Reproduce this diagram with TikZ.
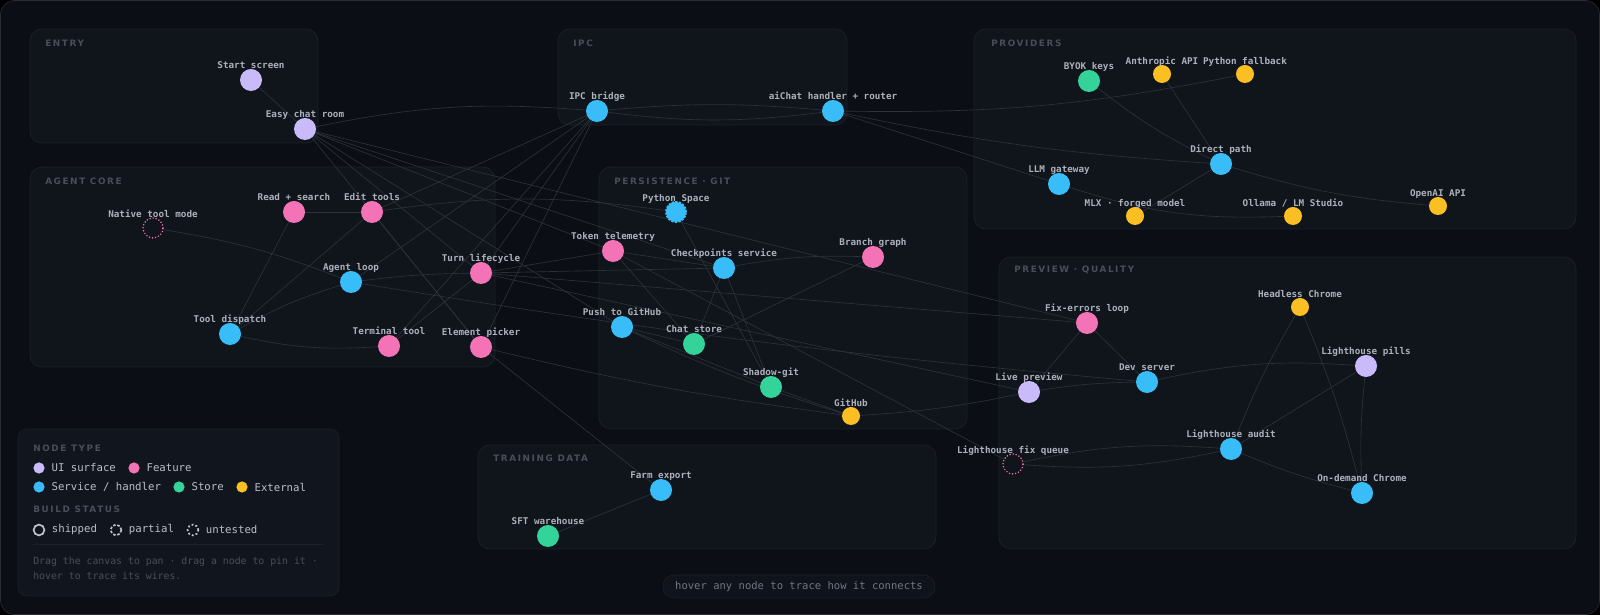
\documentclass[tikz,border=0pt]{standalone}
\usepackage{fontspec}
\setmonofont{DejaVu Sans Mono}
\newfontfamily\grpfont[LetterSpace=18]{DejaVu Sans Bold}
\usetikzlibrary{positioning}

\definecolor{canvas}{RGB}{11,14,20}
\definecolor{frame}{RGB}{40,44,52}
\definecolor{boxfill}{RGB}{16,20,27}
\definecolor{boxline}{RGB}{28,33,42}
\definecolor{grptext}{RGB}{72,78,90}
\definecolor{lbltext}{RGB}{172,177,188}
\definecolor{lgtextcol}{RGB}{185,190,200}
\definecolor{notecol}{RGB}{72,78,90}
\definecolor{hintcol}{RGB}{112,118,130}
\definecolor{wirecol}{RGB}{45,50,59}
\definecolor{uicol}{RGB}{201,187,250}
\definecolor{featcol}{RGB}{244,114,182}
\definecolor{svccol}{RGB}{56,189,248}
\definecolor{storecol}{RGB}{52,211,153}
\definecolor{extcol}{RGB}{251,191,36}
\definecolor{ringcol}{RGB}{190,195,205}

\pgfdeclarelayer{bg}
\pgfdeclarelayer{wires}
\pgfsetlayers{bg,wires,main}

\tikzset{
  grp/.style={draw=boxline, fill=boxfill, rounded corners=0.3cm, line width=0.5pt},
  grplbl/.style={font=\grpfont\fontsize{6.3}{7}\selectfont, text=grptext, anchor=west, inner sep=0},
  dot/.style={circle, inner sep=0, outer sep=0, minimum size=0.55cm, label distance=0.09cm},
  lbl/.style={font=\ttfamily\bfseries\fontsize{6.6}{7}\selectfont, text=lbltext, inner sep=0, text depth=0pt},
  ui/.style={dot, fill=uicol},
  feat/.style={dot, fill=featcol},
  svc/.style={dot, fill=svccol},
  store/.style={dot, fill=storecol},
  ext/.style={dot, fill=extcol, minimum size=0.45cm, label distance=0.14cm},
  partialsvc/.style={dot, fill=svccol, draw=svccol, line width=1.4pt, dash pattern=on 1.6pt off 0.9pt, minimum size=0.5cm, label distance=0.11cm},
  untested/.style={dot, draw=featcol, line width=1.2pt, line cap=round, dash pattern=on 0pt off 2.2pt, minimum size=0.5cm, label distance=0.1cm},
  wire/.style={draw=wirecol, line width=0.45pt},
  lgdot/.style={circle, inner sep=0, minimum size=0.28cm},
  lgring/.style={circle, inner sep=0, minimum size=0.27cm, draw=ringcol, line width=1.2pt},
  lgtext/.style={font=\ttfamily\fontsize{7.6}{9}\selectfont, text=lgtextcol, inner sep=0, anchor=west},
  notetext/.style={font=\ttfamily\fontsize{7}{8}\selectfont, text=notecol, inner sep=0, anchor=west}
}

\begin{document}
\begin{tikzpicture}[x=0.025cm, y=-0.025cm]
  \useasboundingbox (0,0) rectangle (1600,615);
  % ---- canvas and group boxes
  \begin{pgfonlayer}{bg}
    \fill[black] (0,0) rectangle (1600,615);
    \draw[draw=frame, fill=canvas, rounded corners=0.35cm] (0.5,0.5) rectangle (1599.5,614.5);
    \draw[grp] (30,29) rectangle (318,143);
    \draw[grp] (558,29) rectangle (847,125);
    \draw[grp] (974,29) rectangle (1576,229);
    \draw[grp] (30,167) rectangle (495,367);
    \draw[grp] (599,167) rectangle (967,429);
    \draw[grp] (999,257) rectangle (1576,549);
    \draw[grp] (478,445) rectangle (936,549);
  \end{pgfonlayer}
  \node[grplbl] at (45,43) {ENTRY};
  \node[grplbl] at (573,43) {IPC};
  \node[grplbl] at (991,43) {PROVIDERS};
  \node[grplbl] at (45,181) {AGENT CORE};
  \node[grplbl] at (614,181) {PERSISTENCE · GIT};
  \node[grplbl] at (1014,270) {PREVIEW · QUALITY};
  \node[grplbl] at (493,458) {TRAINING DATA};

  % ---- entry + ipc
  \node[ui, label={[lbl]above:Start screen}] (start) at (251,80) {};
  \node[ui, label={[lbl]above:Easy chat room}] (easy) at (305,129) {};
  \node[svc, label={[lbl]above:IPC bridge}] (ipc) at (597,111) {};
  \node[svc, label={[lbl]above:aiChat handler + router}] (router) at (833,111) {};
  % ---- providers
  \node[store, label={[lbl]above:BYOK keys}] (byok) at (1089,81) {};
  \node[ext, label={[lbl]above:Anthropic API}] (anthropic) at (1162,74) {};
  \node[ext, label={[lbl]above:Python fallback}] (pyfall) at (1245,74) {};
  \node[svc, label={[lbl]above:Direct path}] (direct) at (1221,164) {};
  \node[svc, label={[lbl]above:LLM gateway}] (gateway) at (1059,184) {};
  \node[ext, label={[lbl]above:MLX · forged model}] (mlx) at (1135,216) {};
  \node[ext, label={[lbl]above:Ollama / LM Studio}] (ollama) at (1293,216) {};
  \node[ext, label={[lbl]above:OpenAI API}] (openai) at (1438,206) {};
  % ---- agent core
  \node[untested, label={[lbl]above:Native tool mode}] (native) at (153,228) {};
  \node[feat, label={[lbl]above:Read + search}] (readsearch) at (294,212) {};
  \node[feat, label={[lbl]above:Edit tools}] (edittools) at (372,212) {};
  \node[svc, label={[lbl]above:Agent loop}] (agentloop) at (351,282) {};
  \node[feat, label={[lbl]above:Turn lifecycle}] (turn) at (481,273) {};
  \node[svc, label={[lbl]above:Tool dispatch}] (tooldisp) at (230,334) {};
  \node[feat, label={[lbl]above:Terminal tool}] (terminal) at (389,346) {};
  \node[feat, label={[lbl]above:Element picker}] (picker) at (481,347) {};
  % ---- persistence
  \node[partialsvc, label={[lbl]above:Python Space}] (pyspace) at (676,212) {};
  \node[feat, label={[lbl]above:Token telemetry}] (token) at (613,251) {};
  \node[svc, label={[lbl]above:Checkpoints service}] (checkpoints) at (724,268) {};
  \node[feat, label={[lbl]above:Branch graph}] (branch) at (873,257) {};
  \node[svc, label={[lbl]above:Push to GitHub}] (push) at (622,327) {};
  \node[store, label={[lbl]above:Chat store}] (chatstore) at (694,344) {};
  \node[store, label={[lbl]above:Shadow-git}] (shadow) at (771,387) {};
  \node[ext, label={[lbl]above:GitHub}] (github) at (851,416) {};
  % ---- preview + quality
  \node[feat, label={[lbl]above:Fix-errors loop}] (fixerr) at (1087,323) {};
  \node[ext, label={[lbl]above:Headless Chrome}] (headless) at (1300,307) {};
  \node[ui, label={[lbl]above:Lighthouse pills}] (pills) at (1366,366) {};
  \node[svc, label={[lbl]above:Dev server}] (devserver) at (1147,382) {};
  \node[ui, label={[lbl]above:Live preview}] (livepreview) at (1029,392) {};
  \node[svc, label={[lbl]above:Lighthouse audit}] (lhaudit) at (1231,449) {};
  \node[untested, label={[lbl]above:Lighthouse fix queue}] (fixqueue) at (1013,464) {};
  \node[svc, label={[lbl]above:On-demand Chrome}] (ondemand) at (1362,493) {};
  % ---- training data
  \node[svc, label={[lbl]above:Farm export}] (farm) at (661,490) {};
  \node[store, label={[lbl]above:SFT warehouse}] (sft) at (548,536) {};

  % ---- wires
  \begin{pgfonlayer}{wires}
    \draw[wire] (start) -- (easy);
    \draw[wire] (easy) to[bend left=8] (ipc);
    \draw[wire] (easy) -- (fixerr);
    \draw[wire] (edittools) to[bend left=8] (pyspace);
    \draw[wire] (easy) -- (token);
    \draw[wire] (easy) -- (checkpoints);
    \draw[wire] (easy) -- (turn);
    \draw[wire] (easy) -- (picker);
    \draw[wire] (easy) -- (push);
    \draw[wire] (ipc) to[bend left=5] (router);
    \draw[wire] (ipc) to[bend right=7] (router);
    \draw[wire] (ipc) -- (edittools);
    \draw[wire] (ipc) -- (agentloop);
    \draw[wire] (ipc) -- (turn);
    \draw[wire] (ipc) -- (terminal);
    \draw[wire] (ipc) -- (picker);
    \draw[wire] (router) to[bend right=6] (pyfall);
    \draw[wire] (router) to[bend right=4] (direct);
    \draw[wire] (router) -- (gateway);
    \draw[wire] (byok) to[bend right=6] (direct);
    \draw[wire] (anthropic) -- (direct);
    \draw[wire] (direct) -- (mlx);
    \draw[wire] (direct) to[bend right=6] (openai);
    \draw[wire] (gateway) to[bend right=10] (ollama);
    \draw[wire] (readsearch) -- (edittools);
    \draw[wire] (readsearch) -- (tooldisp);
    \draw[wire] (edittools) -- (tooldisp);
    \draw[wire] (edittools) -- (picker);
    \draw[wire] (native) to[bend left=6] (agentloop);
    \draw[wire] (agentloop) to[bend left=3] (turn);
    \draw[wire] (agentloop) to[bend right=2] (devserver);
    \draw[wire] (agentloop) to[bend right=6] (tooldisp);
    \draw[wire] (tooldisp) to[bend right=8] (terminal);
    \draw[wire] (terminal) -- (turn);
    \draw[wire] (turn) -- (token);
    \draw[wire] (turn) -- (checkpoints);
    \draw[wire] (turn) -- (fixerr);
    \draw[wire] (turn) -- (livepreview);
    \draw[wire] (token) -- (checkpoints);
    \draw[wire] (token) -- (chatstore);
    \draw[wire] (token) -- (fixqueue);
    \draw[wire] (pyspace) -- (shadow);
    \draw[wire] (checkpoints) to[bend left=6] (branch);
    \draw[wire] (checkpoints) -- (chatstore);
    \draw[wire] (checkpoints) -- (shadow);
    \draw[wire] (chatstore) -- (branch);
    \draw[wire] (push) -- (chatstore);
    \draw[wire] (push) -- (shadow);
    \draw[wire] (push) to[bend right=4] (github);
    \draw[wire] (picker) to[bend right=3] (github);
    \draw[wire] (picker) -- (farm);
    \draw[wire] (farm) -- (sft);
    \draw[wire] (shadow) -- (github);
    \draw[wire] (github) to[bend right=4] (livepreview);
    \draw[wire] (livepreview) to[bend left=4] (devserver);
    \draw[wire] (livepreview) -- (fixerr);
    \draw[wire] (fixerr) -- (devserver);
    \draw[wire] (devserver) to[bend left=8] (pills);
    \draw[wire] (headless) to[bend right=4] (lhaudit);
    \draw[wire] (headless) to[bend left=4] (ondemand);
    \draw[wire] (pills) -- (lhaudit);
    \draw[wire] (pills) to[bend right=4] (ondemand);
    \draw[wire] (lhaudit) to[bend right=4] (ondemand);
    \draw[wire] (lhaudit) to[bend right=8] (fixqueue);
    \draw[wire] (fixqueue) to[bend right=8] (lhaudit);
  \end{pgfonlayer}

  % ---- legend
  \draw[draw=boxline, fill={rgb,255:red,17;green,22;blue,30}, rounded corners=0.22cm] (18,429) rectangle (339,596);
  \node[grplbl] at (33,448) {NODE TYPE};
  \node[lgdot, fill=uicol] (lgui) at (39,468) {};
  \node[lgtext, right=0.16cm of lgui] {UI surface};
  \node[lgdot, fill=featcol] (lgfeat) at (134,468) {};
  \node[lgtext, right=0.16cm of lgfeat] {Feature};
  \node[lgdot, fill=svccol] (lgsvc) at (39,487) {};
  \node[lgtext, right=0.16cm of lgsvc] {Service / handler};
  \node[lgdot, fill=storecol] (lgstore) at (179,487) {};
  \node[lgtext, right=0.16cm of lgstore] {Store};
  \node[lgdot, fill=extcol] (lgext) at (242,487) {};
  \node[lgtext, right=0.16cm of lgext] {External};
  \node[grplbl] at (33,509) {BUILD STATUS};
  \node[lgring] (lgshipped) at (39,530) {};
  \node[lgtext, right=0.16cm of lgshipped] {shipped};
  \node[lgring, dash pattern=on 1.8pt off 1.3pt] (lgpartial) at (116,530) {};
  \node[lgtext, right=0.16cm of lgpartial] {partial};
  \node[lgring, dash pattern=on 1.3pt off 1.5pt] (lguntested) at (193,530) {};
  \node[lgtext, right=0.16cm of lguntested] {untested};
  \draw[boxline] (33,544) -- (323,544);
  \node[notetext] at (33,562) {Drag the canvas to pan · drag a node to pin it ·};
  \node[notetext] at (33,576) {hover to trace its wires.};

  % ---- hint pill
  \draw[draw=boxline, fill={rgb,255:red,15;green,20;blue,28}, rounded corners=0.28cm] (663,575) rectangle (935,598);
  \node[font=\ttfamily\fontsize{7.5}{9}\selectfont, text=hintcol, inner sep=0] (hint) at (799,587) {hover any node to trace how it connects};
\end{tikzpicture}
\end{document}
